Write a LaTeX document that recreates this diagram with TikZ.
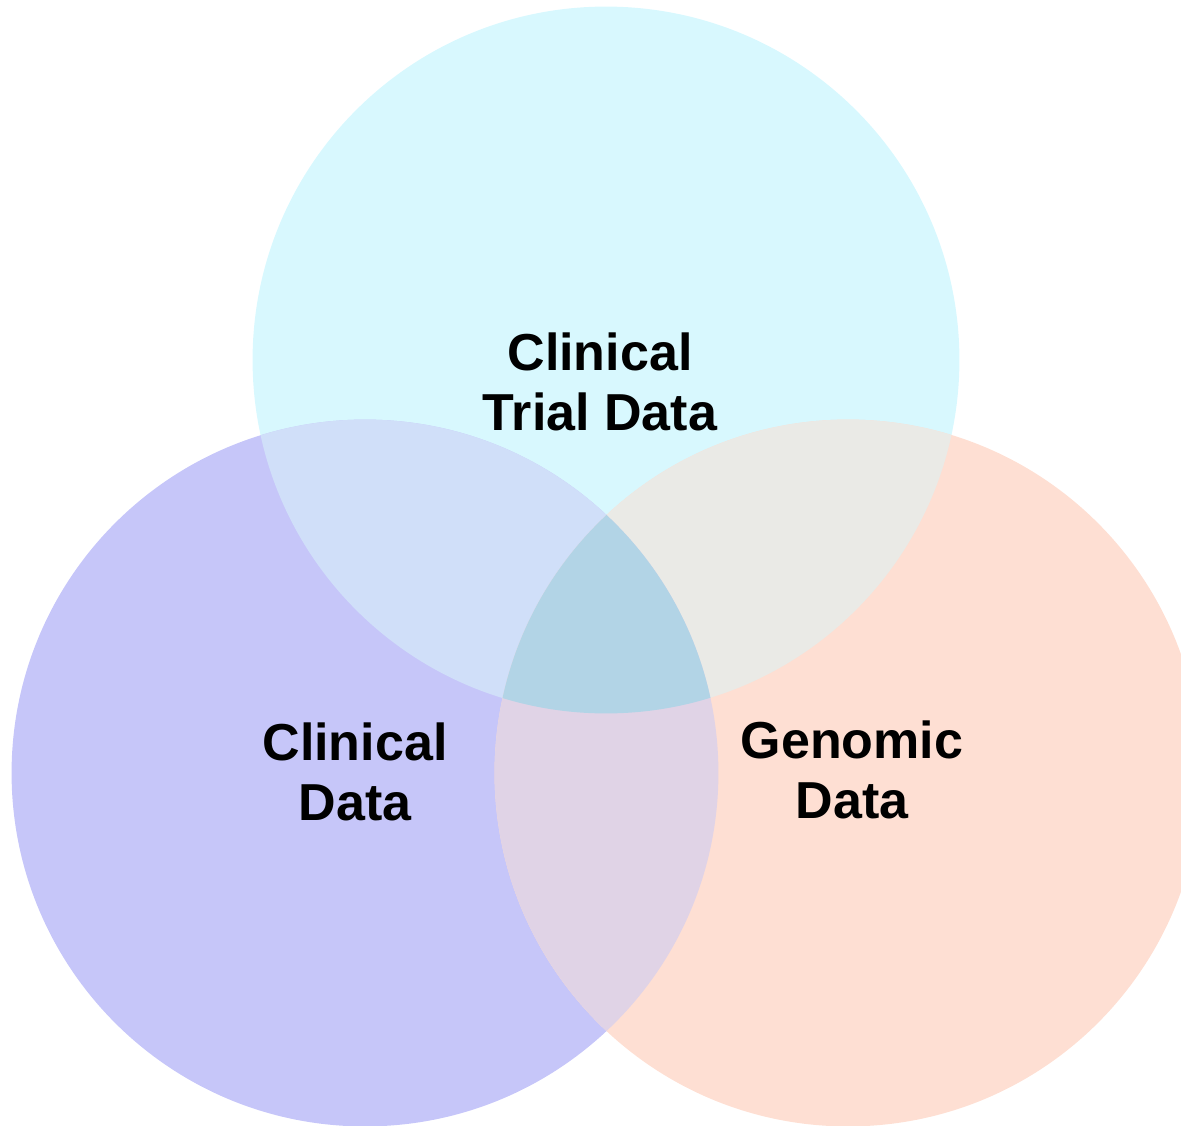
\documentclass[tikz,border=0pt]{standalone}
\usepackage{fontspec}
\setmainfont{Liberation Sans}

\definecolor{trialfill}{HTML}{D8F8FE}
\definecolor{clinfill}{HTML}{C6C6F9}
\definecolor{genofill}{HTML}{FEDFD3}
\definecolor{trialclin}{HTML}{D0DFF9}
\definecolor{trialgeno}{HTML}{EAEAE6}
\definecolor{clingeno}{HTML}{E0D3E6}
\definecolor{allthree}{HTML}{B2D4E6}

\tikzset{
  setlabel/.style={font=\bfseries\fontsize{29.6}{34}\selectfont, align=center, text=black}
}

\begin{document}
\begin{tikzpicture}[x=0.02cm,y=-0.02cm]

	\useasboundingbox (0,0) rectangle (1181,1126);
	\clip (0,0) rectangle (1181,1126);

	% centres
	\coordinate (trial) at (606,360);
	\coordinate (clin) at (365,773);
	\coordinate (geno) at (848,773);
	\def\rad{7.07cm}

	% sets
	\fill[trialfill] (trial) circle[radius=\rad];
	\fill[clinfill] (clin) circle[radius=\rad];
	\fill[genofill] (geno) circle[radius=\rad];

	% pairwise overlaps
	\begin{scope}
		\clip (trial) circle[radius=\rad];
		\fill[trialclin] (clin) circle[radius=\rad];
		\fill[trialgeno] (geno) circle[radius=\rad];
	\end{scope}
	\begin{scope}
		\clip (clin) circle[radius=\rad];
		\fill[clingeno] (geno) circle[radius=\rad];
	\end{scope}

	% all three
	\begin{scope}
		\clip (trial) circle[radius=\rad];
		\clip (clin) circle[radius=\rad];
		\fill[allthree] (geno) circle[radius=\rad];
	\end{scope}

	% labels
	\node[setlabel] (triallabel) at (600,382) {Clinical\\Trial Data};
	\node[setlabel] (clinlabel) at (355,772) {Clinical\\Data};
	\node[setlabel] (genolabel) at (852,770) {Genomic\\Data};

\end{tikzpicture}
\end{document}
